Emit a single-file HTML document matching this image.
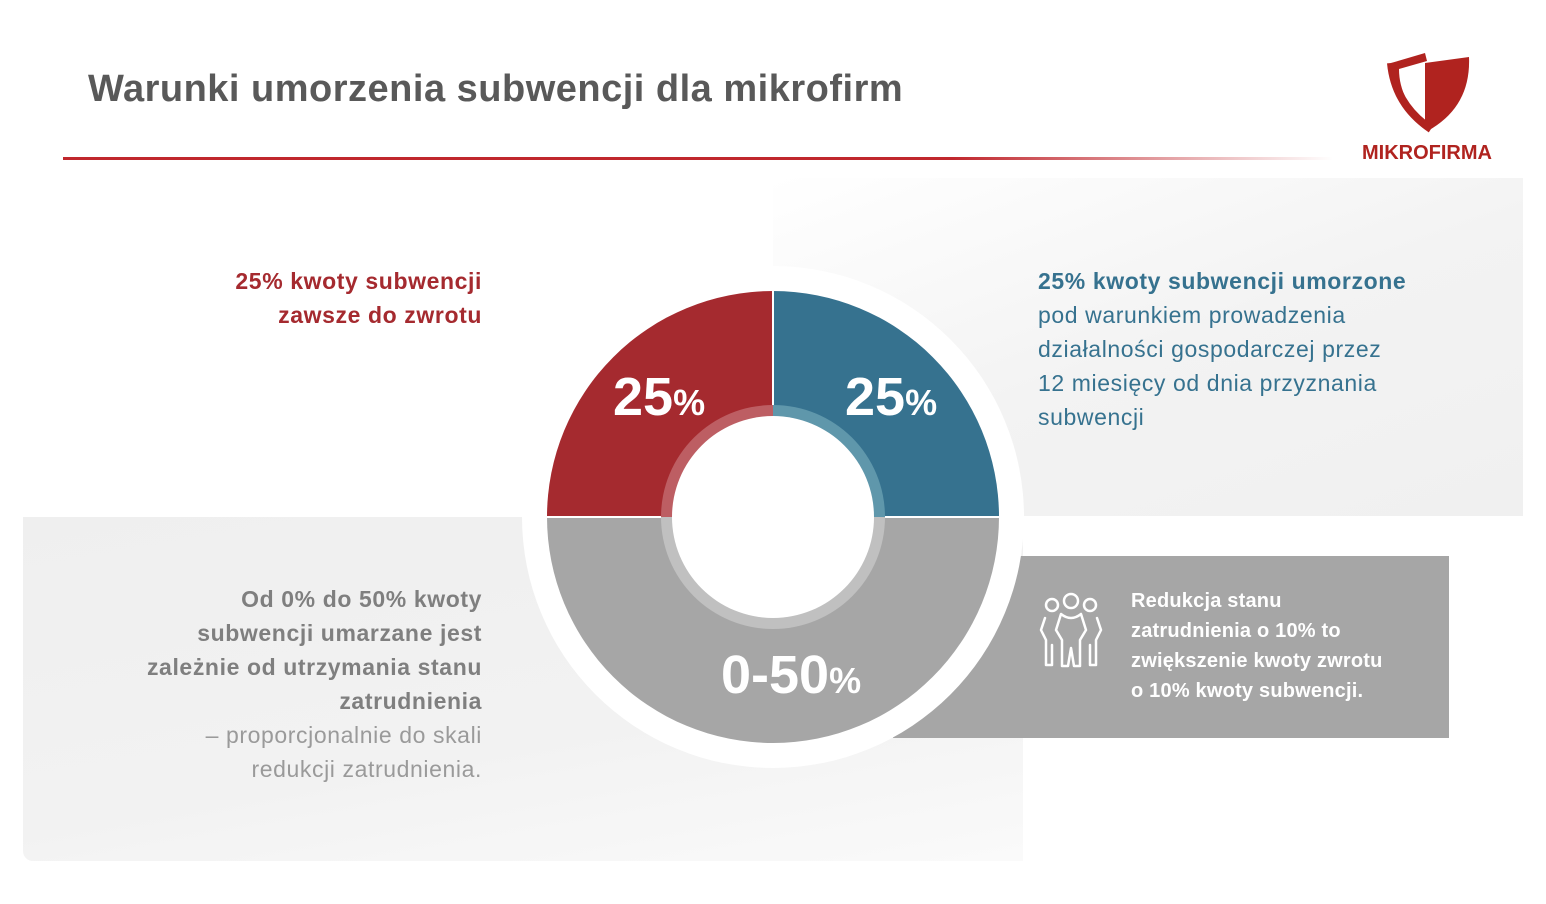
<!DOCTYPE html>
<html><head><meta charset="utf-8"><style>
html,body{margin:0;padding:0;background:#fff;}
body{width:1546px;height:904px;position:relative;overflow:hidden;font-family:"Liberation Sans",sans-serif;}
.abs{position:absolute;}
.t{white-space:nowrap;}
</style></head><body>
<div class="abs t" style="left:88px;top:68px;font-size:38px;font-weight:bold;color:#595959;letter-spacing:0.5px;">Warunki umorzenia subwencji dla mikrofirm</div>
<div class="abs" style="left:63px;top:157px;width:1270px;height:3px;background:linear-gradient(90deg,#c0272d 0%,#c0272d 70%,rgba(192,39,45,0) 100%);"></div>
<svg class="abs" style="left:1385px;top:45px" width="92" height="90" viewBox="0 0 92 90">
<path d="M6 18 L40 8 L42 16 L14 24 Q14 56 44 82 Q18 62 6 18Z" fill="#b0231f"/>
<path d="M40 18 L84 12 Q86 60 46 84 Q40 82 40 80Z" fill="#b0231f"/>
<path d="M6 18 Q10 60 46 84" stroke="#b0231f" stroke-width="8" fill="none"/>
</svg>
<div class="abs t" style="left:1362px;top:142px;font-size:20px;font-weight:bold;color:#b0231f;">MIKROFIRMA</div>
<div class="abs" style="left:773px;top:178px;width:750px;height:338px;background:linear-gradient(160deg,#fff 0%,#f3f3f3 50%,#f0f0f0 100%);"></div>
<div class="abs" style="left:23px;top:517px;width:1000px;height:344px;border-radius:0 0 0 10px;background:linear-gradient(170deg,#efefef 0%,#f2f2f2 60%,#fafafa 100%);"></div>
<div class="abs" style="left:893px;top:556px;width:556px;height:182px;background:#a6a6a6;"></div>
<svg class="abs" style="left:0;top:0" width="1546" height="904">
<circle cx="773" cy="517" r="251" fill="#fff"/>
<path d="M773 517 L773 291 A226 226 0 0 1 999 517Z" fill="#36728f"/>
<path d="M773 517 L547 517 A226 226 0 0 1 773 291Z" fill="#a52a2f"/>
<path d="M547 517 A226 226 0 0 0 999 517Z" fill="#a6a6a6"/>
<line x1="773" y1="291" x2="773" y2="517" stroke="#fff" stroke-width="2"/>
<line x1="547" y1="517" x2="999" y2="517" stroke="#fff" stroke-width="2"/>
<path d="M773 405 A112 112 0 0 1 885 517 L773 517Z" fill="#5f97ab"/>
<path d="M661 517 A112 112 0 0 1 773 405 L773 517Z" fill="#bd5e63"/>
<path d="M661 517 A112 112 0 0 0 885 517Z" fill="#c0c0c0"/>
<circle cx="773" cy="517" r="101" fill="#fff"/>
<g fill="none" stroke="#fff" stroke-width="2.5" stroke-linecap="round" stroke-linejoin="round">
<circle cx="1052" cy="605" r="6"/><circle cx="1071" cy="601" r="7"/><circle cx="1090" cy="605" r="6"/>
<path d="M1045 618 L1041 630 L1046 640 L1046 665 L1052 665 L1052 645"/>
<path d="M1097 618 L1101 630 L1096 640 L1096 665 L1090 665 L1090 645"/>
<path d="M1061 614 Q1071 622 1081 614 L1086 630 L1080 640 L1080 666 L1074 666 L1071 648 L1068 666 L1062 666 L1062 640 L1056 630Z"/>
</g>
</svg>
<div class="abs t" style="left:613px;top:366px;font-size:54px;font-weight:bold;color:#fff;">25<span style="font-size:36px">%</span></div>
<div class="abs t" style="left:845px;top:366px;font-size:54px;font-weight:bold;color:#fff;">25<span style="font-size:36px">%</span></div>
<div class="abs t" style="left:721px;top:644px;font-size:54px;font-weight:bold;color:#fff;">0-50<span style="font-size:36px">%</span></div>
<div class="abs" style="right:1064px;top:264px;text-align:right;font-size:23px;line-height:34px;font-weight:bold;color:#a52a2f;white-space:nowrap;letter-spacing:0.6px;">25% kwoty subwencji<br>zawsze do zwrotu</div>
<div class="abs t" style="left:1038px;top:264px;font-size:23px;line-height:34px;color:#36728f;letter-spacing:0.6px;"><b>25% kwoty subwencji umorzone</b><br>pod warunkiem prowadzenia<br>działalności gospodarczej przez<br>12 miesięcy od dnia przyznania<br>subwencji</div>
<div class="abs" style="right:1064px;top:582px;text-align:right;font-size:23px;line-height:34px;color:#7f7f7f;white-space:nowrap;letter-spacing:0.6px;"><b>Od 0% do 50% kwoty<br>subwencji umarzane jest<br>zależnie od utrzymania stanu<br>zatrudnienia</b><br><span style="color:#9a9a9a">– proporcjonalnie do skali<br>redukcji zatrudnienia.</span></div>
<div class="abs t" style="left:1131px;top:586px;font-size:20px;line-height:30px;font-weight:bold;color:#fff;letter-spacing:0.2px;">Redukcja stanu<br>zatrudnienia  o 10% to<br>zwiększenie kwoty zwrotu<br>o 10% kwoty subwencji.</div>
</body></html>
